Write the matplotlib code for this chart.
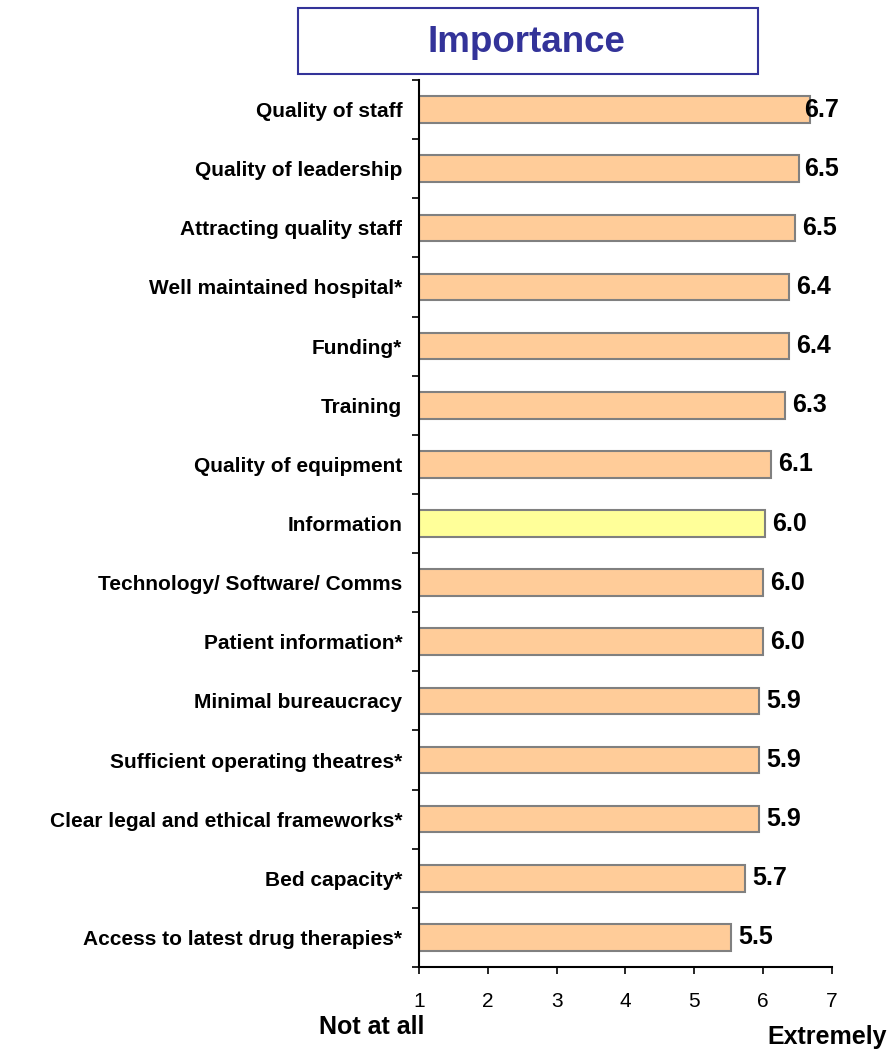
import numpy as np
import matplotlib
matplotlib.use('Agg')
import matplotlib.pyplot as plt
from matplotlib.patches import Rectangle

plt.rcParams['font.family'] = 'Liberation Sans'

# data (top to bottom)
items = ['Quality of staff', 'Quality of leadership', 'Attracting quality staff',
         'Well maintained hospital*', 'Funding*', 'Training', 'Quality of equipment',
         'Information', 'Technology/ Software/ Comms', 'Patient information*',
         'Minimal bureaucracy', 'Sufficient operating theatres*',
         'Clear legal and ethical frameworks*', 'Bed capacity*',
         'Access to latest drug therapies*']
scores = [6.68, 6.52, 6.47, 6.38, 6.38, 6.32, 6.12, 6.03, 6.0, 6.0, 5.94, 5.94, 5.94, 5.74, 5.54]
highlight = 'Information'
xticks = [1, 2, 3, 4, 5, 6, 7]

fig = plt.figure(figsize=(8.92, 10.49), dpi=100)
ax = fig.add_axes([0.4697, 0.0782, 0.463, 0.8455])

n = len(items)
ypos = np.arange(n)[::-1]
cols = ['#FFFF99' if it == highlight else '#FFCC99' for it in items]
ax.barh(ypos, np.array(scores) - 1, left=1, height=0.45, color=cols,
        edgecolor='#808080', linewidth=1.5, zorder=2)

# value labels, kept inside the figure like the original
for y, v in zip(ypos, scores):
    ax.text(min(v + 0.1, 6.6), y, '%.1f' % v, va='center', ha='left',
            fontsize=18, fontweight='bold', zorder=3)

ax.set_xlim(1, 7)
ax.set_ylim(-0.5, n - 0.5)
ax.set_xticks(xticks)
ax.set_xticklabels([str(t) for t in xticks], fontsize=15)
ax.set_yticks(ypos)
ax.set_yticklabels(items, fontsize=15, fontweight='bold')
ax.tick_params(axis='y', which='major', length=0, pad=12)
ax.set_yticks(np.arange(-0.5, n, 1), minor=True)
ax.tick_params(axis='y', which='minor', length=5, width=1.2, direction='out')
ax.tick_params(axis='x', length=5, width=1.2, direction='out', pad=13)
ax.spines['top'].set_visible(False)
ax.spines['right'].set_visible(False)
ax.spines['left'].set_linewidth(1.5)
ax.spines['bottom'].set_linewidth(1.5)

# title box
fig.patches.append(Rectangle((298 / 892, 1 - 74 / 1049), 460 / 892, 66 / 1049,
                             transform=fig.transFigure, fill=False,
                             edgecolor='#333399', linewidth=1.5))
fig.text(526 / 892, 1 - 42 / 1049, 'Importance', ha='center', va='center',
         fontsize=26.5, fontweight='bold', color='#333399')

fig.text(372 / 892, 1 - 1027 / 1049, 'Not at all', ha='center', va='center',
         fontsize=18, fontweight='bold')
fig.text(827 / 892, 1 - 1037 / 1049, 'Extremely', ha='center', va='center',
         fontsize=18, fontweight='bold')

fig.savefig('out.png', dpi=100)
